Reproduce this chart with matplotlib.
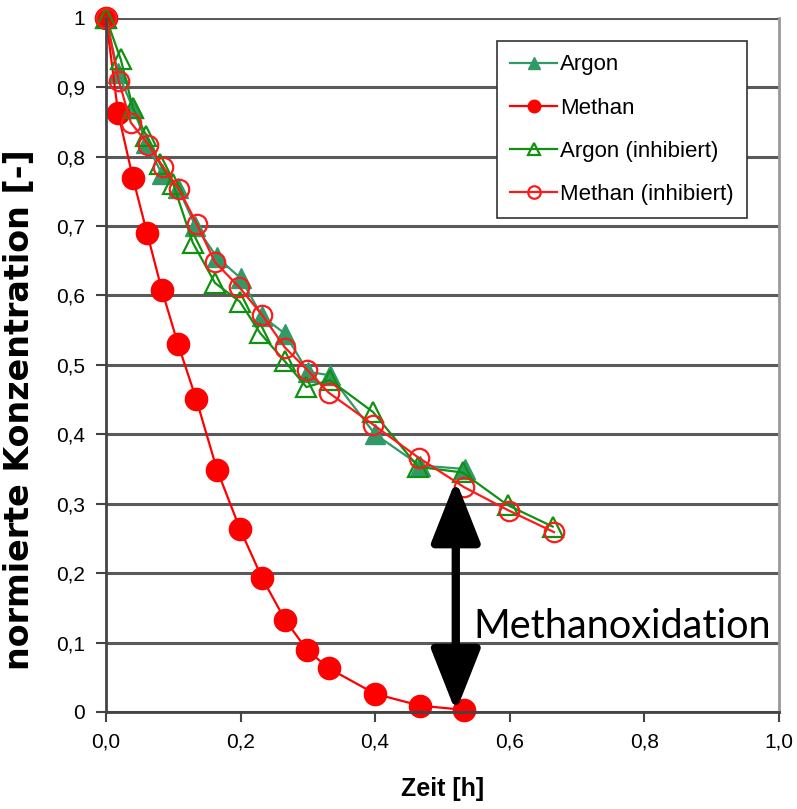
import matplotlib
matplotlib.use("Agg")
from matplotlib import pyplot as plt
from matplotlib.ticker import FixedLocator

# Zeit [h] und normierte Konzentration
argon_t = [0, 0.018, 0.04, 0.06, 0.083, 0.107, 0.133, 0.165, 0.2, 0.232, 0.266, 0.3, 0.333, 0.4, 0.467, 0.533]
argon_c = [1.0, 0.92, 0.87, 0.82, 0.775, 0.755, 0.70, 0.655, 0.625, 0.57, 0.545, 0.49, 0.485, 0.40, 0.355, 0.35]

methan_t = [0, 0.018, 0.04, 0.061, 0.083, 0.107, 0.134, 0.165, 0.199, 0.232, 0.266, 0.299, 0.331, 0.4, 0.467, 0.532]
methan_c = [1.0, 0.863, 0.769, 0.69, 0.608, 0.53, 0.451, 0.349, 0.264, 0.193, 0.133, 0.089, 0.063, 0.026, 0.009, 0.003]

argon_inh_t = [0, 0.022, 0.04, 0.06, 0.08, 0.1, 0.129, 0.162, 0.199, 0.229, 0.266, 0.298, 0.333, 0.397, 0.464, 0.53, 0.597, 0.664]
argon_inh_c = [1.0, 0.94, 0.87, 0.83, 0.79, 0.76, 0.676, 0.618, 0.591, 0.546, 0.505, 0.468, 0.478, 0.432, 0.353, 0.345, 0.298, 0.267]

methan_inh_t = [0, 0.019, 0.037, 0.063, 0.085, 0.108, 0.135, 0.162, 0.198, 0.232, 0.266, 0.299, 0.331, 0.397, 0.465, 0.532, 0.599, 0.666]
methan_inh_c = [1.0, 0.909, 0.849, 0.817, 0.785, 0.754, 0.703, 0.648, 0.612, 0.572, 0.525, 0.493, 0.46, 0.414, 0.366, 0.324, 0.29, 0.259]

y_ticks = [0, 0.1, 0.2, 0.3, 0.4, 0.5, 0.6, 0.7, 0.8, 0.9, 1.0]
y_labels = ["0", "0,1", "0,2", "0,3", "0,4", "0,5", "0,6", "0,7", "0,8", "0,9", "1"]
x_ticks = [0.0, 0.2, 0.4, 0.6, 0.8, 1.0]
x_labels = ["0,0", "0,2", "0,4", "0,6", "0,8", "1,0"]

plt.rcParams["font.family"] = ["Liberation Sans", "DejaVu Sans"]

fig = plt.figure(figsize=(7.97, 8.09), dpi=100)
ax = fig.add_axes([0.133, 0.120, 0.844, 0.858])

ax.plot(argon_t, argon_c, color="#2f9a68", lw=1.6, marker="^", ms=14,
        mfc="#2f9a68", mec="#2f9a68", label="Argon", clip_on=False)
ax.plot(methan_t, methan_c, color="#ff0000", lw=1.6, marker="o", ms=16,
        mfc="#ff0000", mec="#ff0000", label="Methan", clip_on=False)
ax.plot(argon_inh_t, argon_inh_c, color="#119111", lw=1.6, marker="^", ms=14,
        mfc="none", mec="#119111", mew=1.6, label="Argon (inhibiert)", clip_on=False)
ax.plot(methan_inh_t, methan_inh_c, color="#ff1a1a", lw=1.6, marker="o", ms=14,
        mfc="none", mec="#ff1a1a", mew=1.6, label="Methan (inhibiert)", clip_on=False)

ax.set_xlim(0, 1.0)
ax.set_ylim(0, 1.0)
ax.yaxis.set_major_locator(FixedLocator(y_ticks))
ax.xaxis.set_major_locator(FixedLocator(x_ticks))
ax.set_yticklabels(y_labels, fontsize=15)
ax.set_xticklabels(x_labels, fontsize=15)
ax.tick_params(axis="both", direction="out", length=7, width=1.5, color="#444444", pad=8)

ax.grid(axis="y", color="#5a5a5a", lw=2.2)
ax.set_axisbelow(True)
for side in ["left", "bottom"]:
    ax.spines[side].set_color("#444444")
    ax.spines[side].set_linewidth(2)
ax.spines["right"].set_color("#999999")
ax.spines["right"].set_linewidth(2)
ax.spines["top"].set_visible(False)

ax.set_xlabel("Zeit [h]", fontsize=18, fontweight="bold", labelpad=18)
ax.set_ylabel("normierte Konzentration [-]", fontsize=24, fontweight="bold",
              family="DejaVu Sans")
ax.yaxis.set_label_coords(-0.104, 0.436)

leg = ax.legend(loc="upper right", bbox_to_anchor=(0.96, 0.973), fontsize=16,
                fancybox=False, framealpha=1, edgecolor="#333333",
                handlelength=2.1, labelspacing=1.0, borderpad=0.6, handletextpad=0.15,
                borderaxespad=0.2)
leg.get_frame().set_linewidth(1.2)
for h in leg.legend_handles:
    h.set_markersize(9)

# Doppelpfeil Methanoxidation
ax.annotate("", xy=(0.52, 0.0), xytext=(0.52, 0.334),
            arrowprops=dict(arrowstyle="<|-|>,head_length=1.9,head_width=0.75",
                            lw=6, color="black", mutation_scale=20,
                            shrinkA=0, shrinkB=0), zorder=5)
ax.text(0.546, 0.123, "Methanoxidation", fontsize=28.5, family="Lato",
        va="center", ha="left", zorder=6)

fig.savefig("out.png", dpi=100)
